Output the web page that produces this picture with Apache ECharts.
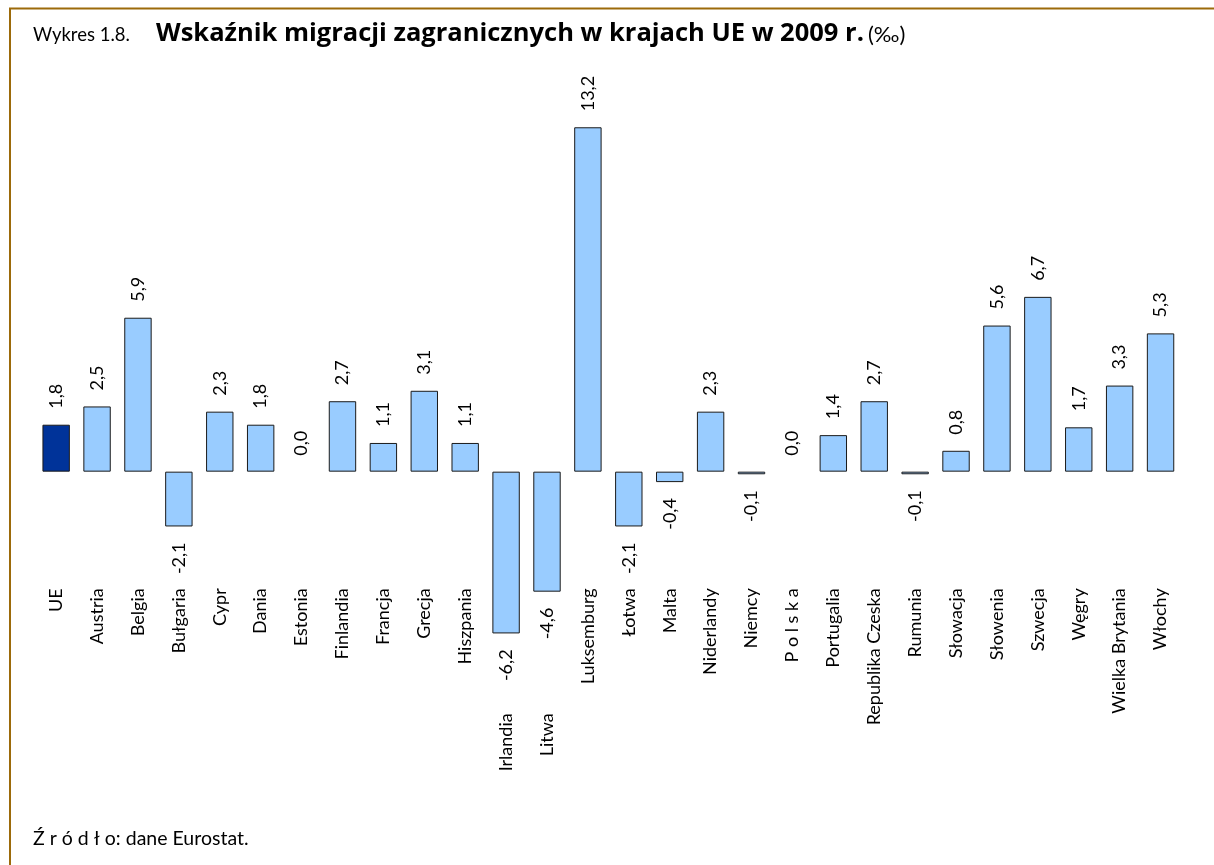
<!DOCTYPE html>
<html>
<head>
<meta charset="utf-8">
<script src="https://cdn.jsdelivr.net/npm/echarts@6/dist/echarts.min.js"></script>
<style>
  html, body { margin: 0; padding: 0; background: #fff; }
  #chart { width: 1214px; height: 865px; }
</style>
</head>
<body>
<div id="chart"></div>
<script>
// dane: wskaźnik migracji zagranicznych (‰), 2009
const categories = ["UE", "Austria", "Belgia", "Bułgaria", "Cypr", "Dania", "Estonia", "Finlandia",
  "Francja", "Grecja", "Hiszpania", "Irlandia", "Litwa", "Luksemburg", "Łotwa", "Malta",
  "Niderlandy", "Niemcy", "P o l s k a", "Portugalia", "Republika Czeska", "Rumunia",
  "Słowacja", "Słowenia", "Szwecja", "Węgry", "Wielka Brytania", "Włochy"];
const values = [1.8, 2.5, 5.9, -2.1, 2.3, 1.8, 0.0, 2.7, 1.1, 3.1, 1.1, -6.2, -4.6, 13.2,
  -2.1, -0.4, 2.3, -0.1, 0.0, 1.4, 2.7, -0.1, 0.8, 5.6, 6.7, 1.7, 3.3, 5.3];
const highlighted = "UE";

const FONT = 'Lato, "Open Sans", sans-serif';
const fmt = (v) => v.toFixed(1).replace(".", ",");

const chart = echarts.init(document.getElementById("chart"));

// etykiety krajów z dużymi ujemnymi wartościami idą niżej
const axisData = categories.map((name, i) =>
  values[i] < -4 ? { value: name, textStyle: { padding: [0, 125, 0, 0] } } : name
);

const barData = values.map((v, i) => {
  const item = { value: v };
  if (categories[i] === highlighted) item.itemStyle = { color: "#003399" };
  if (v === 0) item.itemStyle = { borderWidth: 0 };
  if (v < 0) item.label = { position: "bottom", align: "right" };
  return item;
});

chart.setOption({
  animation: false,
  backgroundColor: "#fff",
  textStyle: { fontFamily: FONT },
  grid: { left: 35.7, right: 33, top: 106.4, bottom: 210.7 },
  xAxis: {
    type: "category",
    data: axisData,
    offset: -66,
    axisLine: { show: false },
    axisTick: { show: false },
    axisLabel: {
      rotate: 90,
      margin: 0,
      interval: 0,
      color: "#000",
      fontSize: 18,
      fontFamily: FONT,
    },
  },
  yAxis: {
    type: "value",
    min: -7,
    max: 14,
    show: false,
    splitLine: { show: false },
  },
  series: [
    {
      type: "bar",
      data: barData,
      barCategoryGap: "33%",
      itemStyle: { color: "#99ccff", borderColor: "#1a1a1a", borderWidth: 1 },
      label: {
        show: true,
        position: "top",
        rotate: 90,
        align: "left",
        verticalAlign: "middle",
        distance: 16,
        color: "#000",
        fontSize: 18,
        fontFamily: FONT,
        formatter: (p) => fmt(p.value),
      },
    },
  ],
  graphic: [
    { type: "line", shape: { x1: 9, y1: 8.5, x2: 1214, y2: 8.5 }, style: { stroke: "#9c6a0a", lineWidth: 2 } },
    { type: "line", shape: { x1: 10, y1: 8, x2: 10, y2: 865 }, style: { stroke: "#9c6a0a", lineWidth: 2 } },
    { type: "text", left: 33, top: 26, style: { text: "Wykres 1.8.", font: '18.5px ' + FONT, fill: "#000" } },
    {
      type: "text", left: 156, top: 21,
      style: {
        text: "Wskaźnik migracji zagranicznych w krajach UE w 2009 r.",
        font: 'bold 25.5px "Open Sans", sans-serif',
        fill: "#000",
      },
    },
    { type: "text", left: 868, top: 24, style: { text: "(‰)", font: '22px ' + FONT, fill: "#000" } },
    { type: "text", left: 33, top: 829, style: { text: "Ź r ó d ł o: dane Eurostat.", font: '19.5px ' + FONT, fill: "#000" } },
  ],
});
</script>
</body>
</html>
